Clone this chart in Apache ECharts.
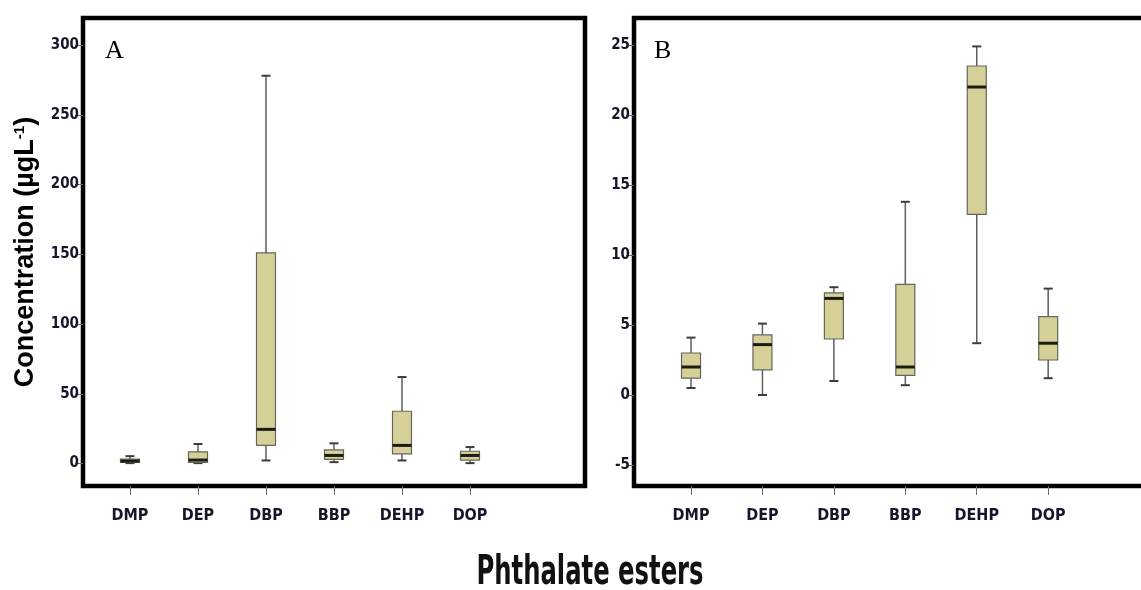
<!DOCTYPE html>
<html>
<head>
<meta charset="utf-8">
<script src="https://cdn.jsdelivr.net/npm/echarts@6/dist/echarts.min.js"></script>
<style>
  html, body { margin: 0; padding: 0; background: #fff; }
  #chart { width: 1141px; height: 590px; }
</style>
</head>
<body>
<div id="chart"></div>
<script>
// Phthalate ester concentrations (µg/L): [min, Q1, median, Q3, max]
const categories = ['DMP', 'DEP', 'DBP', 'BBP', 'DEHP', 'DOP'];

const statsA = [
  [0.3, 0.8, 1.8, 3.2, 5.3],
  [0.3, 0.8, 2.5, 8.3, 14.0],
  [2.2, 13.0, 24.5, 151.0, 278.0],
  [1.0, 3.0, 5.8, 9.8, 14.5],
  [2.2, 7.0, 13.0, 37.5, 62.0],
  [0.3, 2.5, 5.8, 8.8, 11.8]
];

const statsB = [
  [0.5, 1.2, 2.0, 3.0, 4.1],
  [0.0, 1.8, 3.6, 4.3, 5.1],
  [1.0, 4.0, 6.9, 7.3, 7.7],
  [0.7, 1.4, 2.0, 7.9, 13.8],
  [3.7, 12.9, 22.0, 23.5, 24.9],
  [1.2, 2.5, 3.7, 5.6, 7.6]
];

const ticksA = [0, 50, 100, 150, 200, 250, 300];
const ticksB = [-5, 0, 5, 10, 15, 20, 25];

const NARROW = "'Liberation Sans Narrow', 'DejaVu Sans Condensed', sans-serif";
const BOX_W = 19;
const CAP_W = 9;

function toRows(stats) {
  return stats.map((s, i) => [i].concat(s));
}

function renderBox(params, api) {
  const i = api.value(0);
  const pMin = api.coord([i, api.value(1)]);
  const pQ1 = api.coord([i, api.value(2)]);
  const pMed = api.coord([i, api.value(3)]);
  const pQ3 = api.coord([i, api.value(4)]);
  const pMax = api.coord([i, api.value(5)]);
  const cx = pMin[0];
  const hw = BOX_W / 2, cw = CAP_W / 2;
  const stem = { stroke: '#5e5e5e', lineWidth: 1.5 };
  const cap = { stroke: '#3c3c3c', lineWidth: 2 };
  return {
    type: 'group',
    children: [
      { type: 'line', shape: { x1: cx, y1: pMax[1], x2: cx, y2: pQ3[1] }, style: stem },
      { type: 'line', shape: { x1: cx, y1: pQ1[1], x2: cx, y2: pMin[1] }, style: stem },
      { type: 'line', shape: { x1: cx - cw, y1: pMax[1], x2: cx + cw, y2: pMax[1] }, style: cap },
      { type: 'line', shape: { x1: cx - cw, y1: pMin[1], x2: cx + cw, y2: pMin[1] }, style: cap },
      { type: 'rect', shape: { x: cx - hw, y: pQ3[1], width: BOX_W, height: pQ1[1] - pQ3[1] },
        style: { fill: '#d5d098', stroke: '#66665a', lineWidth: 1.2 } },
      { type: 'line', shape: { x1: cx - hw, y1: pMed[1], x2: cx + hw, y2: pMed[1] },
        style: { stroke: '#1c1c14', lineWidth: 3 } }
    ]
  };
}

const frameGrid = (left, width) => ({
  left: left, top: 18, width: width, height: 468, outerBoundsMode: 'none',
  show: true, borderColor: '#000', borderWidth: 4.5, backgroundColor: 'transparent'
});
const plotGrid = (left, width) => ({ left: left, top: 18, width: width, height: 468, outerBoundsMode: 'none' });

const valueAxis = (grid, min, max, ticks, extra) => Object.assign({
  type: 'value', gridIndex: grid, min: min, max: max,
  splitLine: { show: false },
  axisLine: { show: false },
  axisTick: { show: true, length: 8, customValues: ticks, lineStyle: { color: '#6a6a6a', width: 1 } },
  axisLabel: { show: true, customValues: ticks, margin: 4, color: '#16162a',
    fontFamily: NARROW, fontWeight: 'bold', fontSize: 15 }
}, extra || {});

const hiddenValueAxis = (grid, min, max) => ({ type: 'value', gridIndex: grid, min: min, max: max, show: false });

const categoryAxis = (grid) => ({
  type: 'category', gridIndex: grid, data: categories,
  axisLine: { show: false, onZero: false },
  axisTick: { show: true, alignWithLabel: true, length: 9, lineStyle: { color: '#6a6a6a' } },
  axisLabel: { interval: 0, margin: 22, color: '#16162a', fontFamily: NARROW, fontWeight: 'bold', fontSize: 16 }
});

const A_MIN = -16.1, A_MAX = 319.4;
const B_MIN = -6.5, B_MAX = 26.93;

const option = {
  animation: false,
  backgroundColor: '#fff',
  title: [
    { text: 'A', left: 100, top: 33, textStyle: { fontFamily: "'Liberation Serif', serif", fontSize: 26, fontWeight: 'normal', color: '#000' } },
    { text: 'B', left: 649, top: 33, textStyle: { fontFamily: "'Liberation Serif', serif", fontSize: 26, fontWeight: 'normal', color: '#000' } }
  ],
  graphic: [
    {
      type: 'text', x: 590, y: 594, scaleY: 1.5,
      style: { text: 'Phthalate esters', fill: '#111', align: 'center', verticalAlign: 'bottom',
        font: "bold 27px 'Liberation Sans Narrow', 'DejaVu Sans Condensed', sans-serif" }
    }
  ],
  grid: [
    frameGrid(83, 502),
    plotGrid(96, 408),
    frameGrid(634, 640),
    plotGrid(655.3, 428.6)
  ],
  xAxis: [
    { type: 'value', gridIndex: 0, show: false },
    categoryAxis(1),
    { type: 'value', gridIndex: 2, show: false },
    categoryAxis(3)
  ],
  yAxis: [
    valueAxis(0, A_MIN, A_MAX, ticksA, {
      name: '{t|Concentration (µgL}{s|-1}{t|)}',
      nameLocation: 'middle', nameRotate: 90, nameGap: 44,
      nameTextStyle: {
        rich: {
          t: { fontFamily: "'Liberation Sans', Arial, sans-serif", fontWeight: 'bold', fontSize: 27, color: '#000' },
          s: { fontFamily: "'Liberation Sans', Arial, sans-serif", fontWeight: 'bold', fontSize: 15, color: '#000', verticalAlign: 'top' }
        }
      }
    }),
    hiddenValueAxis(1, A_MIN, A_MAX),
    valueAxis(2, B_MIN, B_MAX, ticksB),
    hiddenValueAxis(3, B_MIN, B_MAX)
  ],
  series: [
    { type: 'custom', xAxisIndex: 1, yAxisIndex: 1, renderItem: renderBox,
      encode: { x: 0, y: [1, 2, 3, 4, 5] }, data: toRows(statsA) },
    { type: 'custom', xAxisIndex: 3, yAxisIndex: 3, renderItem: renderBox,
      encode: { x: 0, y: [1, 2, 3, 4, 5] }, data: toRows(statsB) }
  ]
};

const chart = echarts.init(document.getElementById('chart'), null, { renderer: 'canvas' });
chart.setOption(option);
</script>
</body>
</html>
